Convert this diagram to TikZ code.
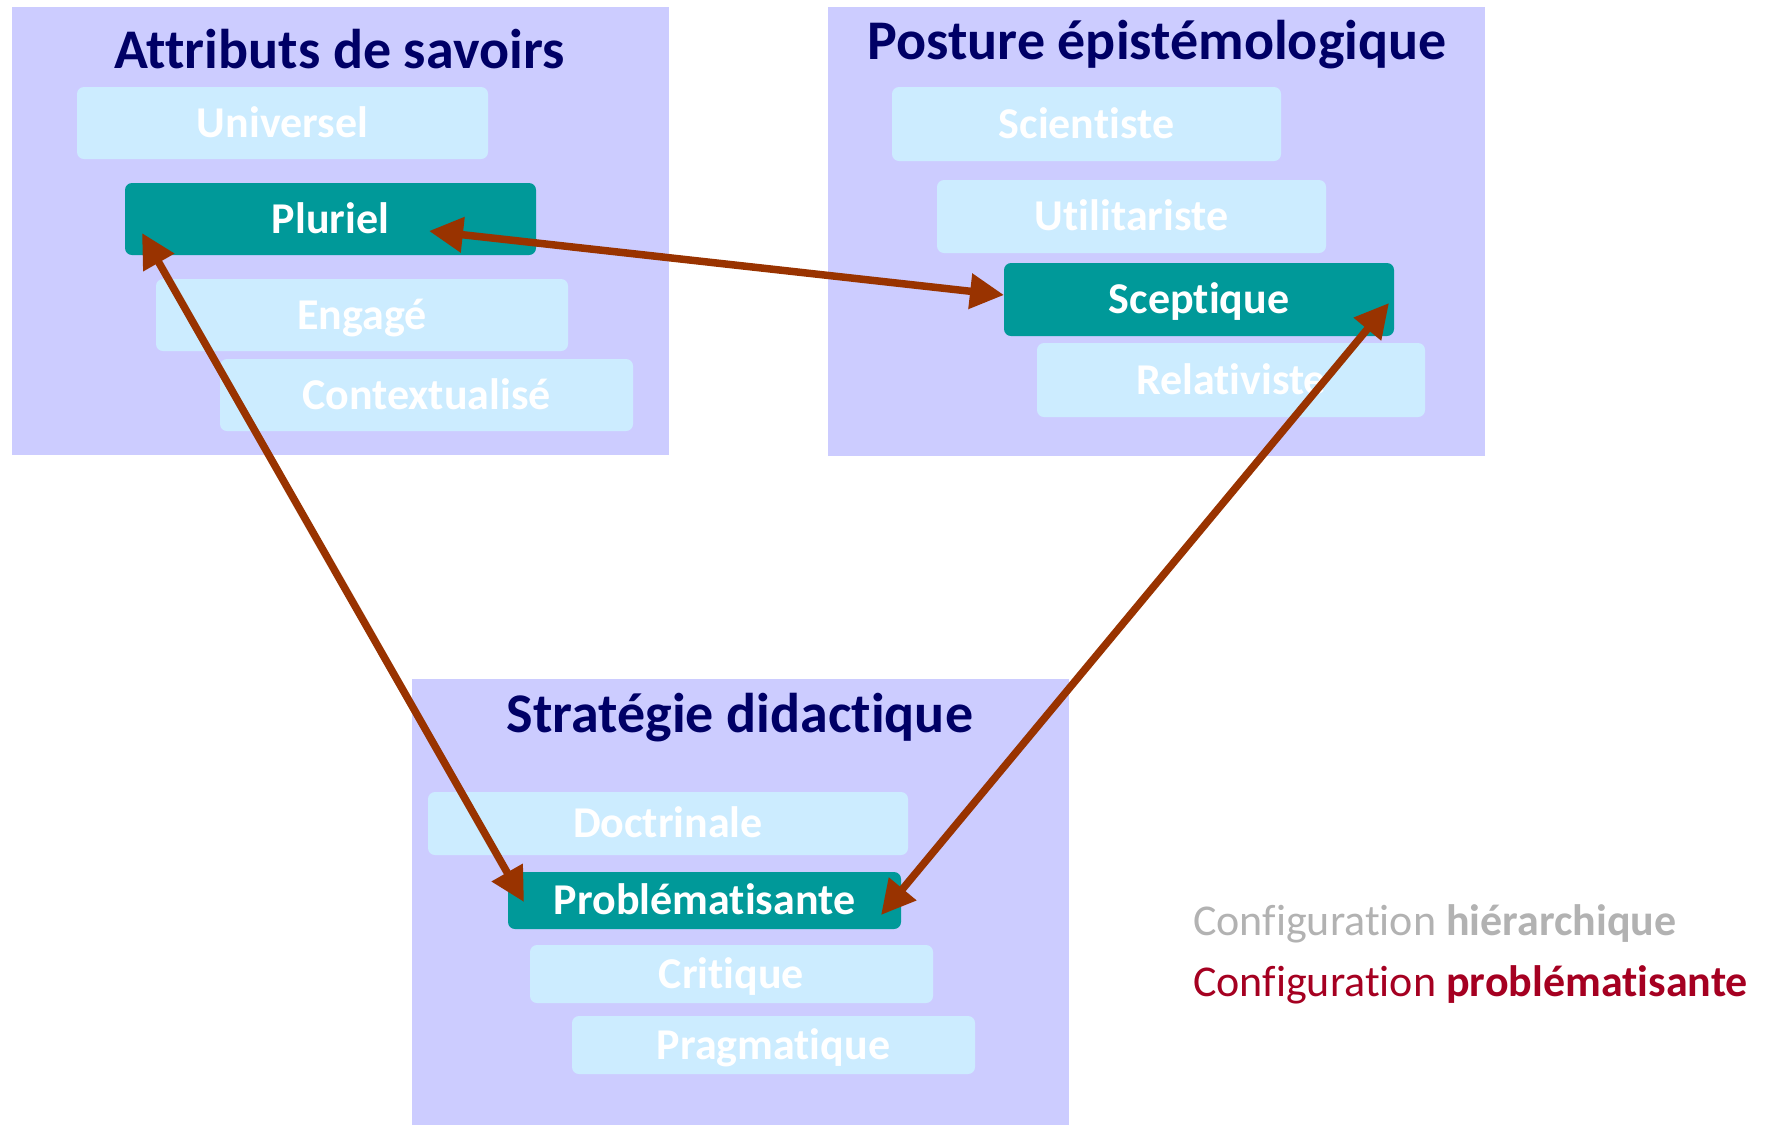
\documentclass[tikz,border=0pt]{standalone}
\usepackage{fontspec}
\setmainfont{Carlito}[Ligatures=NoCommon]
\usetikzlibrary{arrows.meta,calc}
\definecolor{panelc}{HTML}{CCCCFF}
\definecolor{lightc}{HTML}{CCECFF}
\definecolor{tealc}{HTML}{009999}
\definecolor{navyc}{HTML}{000066}
\definecolor{arrowc}{HTML}{993300}
\definecolor{grayc}{HTML}{B2B2B2}
\definecolor{redc}{HTML}{A50021}
\begin{document}
\begin{tikzpicture}[x=1pt,y=-1pt,
  panel/.style={fill=panelc, draw=none, inner sep=0pt, minimum width=657pt, anchor=north west},
  ttl/.style={anchor=base, text=navyc, inner sep=0pt, font={\fontsize{56}{62}\selectfont\bfseries}},
  box/.style={rounded corners=7pt, draw=none, inner sep=0pt, text height=28pt, text depth=0pt,
              text=white, font={\fontsize{44}{50}\selectfont\bfseries}},
  light/.style={box, fill=lightc},
  sel/.style={box, fill=tealc},
  link/.style={draw=arrowc, line width=7.5pt, {Triangle[length=34pt,width=34pt]}-{Triangle[length=34pt,width=34pt]}},
  legend/.style={anchor=base west, inner sep=0pt, font={\fontsize{44}{50}\selectfont}}
]
\useasboundingbox (0,0) rectangle (1771,1125);
% panels
\node[panel, minimum height=448pt] (p1) at (12,7) {};
\node[panel, minimum height=449pt] (p2) at (828,7) {};
\node[panel, minimum height=446pt] (p3) at (412,679) {};
% titles
\node[ttl] (t1) at (339.5,68) {Attributs de savoirs};
\node[ttl] (t2) at (1157,59) {Posture épistémologique};
\node[ttl] (t3) at (740,732) {Stratégie didactique};
% left boxes
\node[light, minimum width=411pt, minimum height=72pt] (univ) at (282.5,123) {Universel};
\node[sel,   minimum width=411pt, minimum height=72pt] (plur) at (330.5,219) {Pluriel};
\node[light, minimum width=412pt, minimum height=72pt] (enga) at (362,315) {Engagé};
\node[light, minimum width=413pt, minimum height=72pt] (cont) at (426.5,395) {Contextualisé};
% right boxes
\node[light, minimum width=389pt, minimum height=74pt] (scie) at (1086.5,124) {Scientiste};
\node[light, minimum width=389pt, minimum height=73pt] (util) at (1131.5,216.5) {Utilitariste};
\node[sel,   minimum width=390pt, minimum height=73pt] (scep) at (1199,299.5) {Sceptique};
\node[light, minimum width=388pt, minimum height=74pt] (rela) at (1231,380) {Relativiste};
% bottom boxes
\node[light, minimum width=480pt, minimum height=63pt] (doct) at (668,823.5) {Doctrinale};
\node[sel,   minimum width=393pt, minimum height=57pt] (prob) at (704.5,900.5) {Problématisante};
\node[light, minimum width=403pt, minimum height=58pt] (crit) at (731.5,974) {Critique};
\node[light, minimum width=403pt, minimum height=58pt] (prag) at (773.5,1045) {Pragmatique};
% arrows
\draw[link] ($(plur.center)+(98.5,12)$) -- ($(scep.center)+(-195,-4.5)$);
\draw[link] ($(plur.center)+(-188.5,14)$) -- ($(prob.center)+(-180.5,1.5)$);
\draw[link] ($(scep.center)+(190,3.5)$) -- ($(prob.center)+(176.5,14.5)$);
% legend
\node[legend, text=grayc] (lg1) at (1193,935) {Configuration \textbf{hiérarchique}};
\node[legend, text=redc] (lg2) at (1193,996) {Configuration \textbf{problématisante}};
\end{tikzpicture}
\end{document}
